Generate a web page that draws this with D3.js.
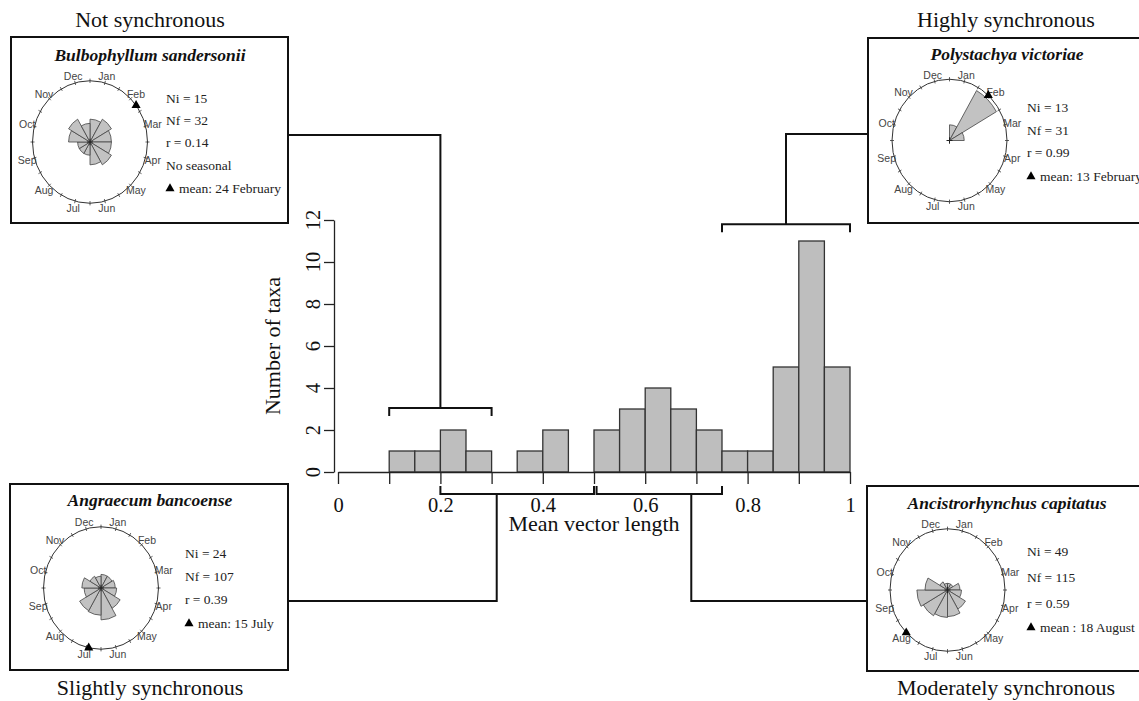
<!DOCTYPE html>
<html><head><meta charset="utf-8">
<script src="https://cdnjs.cloudflare.com/ajax/libs/d3/7.8.5/d3.min.js"></script>
<style>html,body{margin:0;padding:0;background:#fff;} svg{display:block}</style>
</head><body><svg id="c" width="1139" height="701"></svg>
<script>
// ---------- data ----------
const histBinStart = [0.10,0.15,0.20,0.25,0.30,0.35,0.40,0.45,0.50,0.55,0.60,0.65,0.70,0.75,0.80,0.85,0.90,0.95];
const histCount    = [1,1,2,1,0,1,2,0,2,3,4,3,2,1,1,5,11,5];
const binWidth = 0.05;
const xMinorTicks = [0,0.1,0.2,0.3,0.4,0.5,0.6,0.7,0.8,0.9,1];
const xLabelValues = [0,0.2,0.4,0.6,0.8,1];
const xTickLabels = ["0","0.2","0.4","0.6","0.8","1"];
const yTickValues = [0,2,4,6,8,10,12];
const yTickLabels = ["0","2","4","6","8","10","12"];
const xTitle = "Mean vector length";
const yTitle = "Number of taxa";

const classNames  = ["Not synchronous","Highly synchronous","Slightly synchronous","Moderately synchronous"];
const classRanges = [[0.1,0.3],[0.75,1.0],[0.2,0.5],[0.505,0.75]];
const classStem   = [0.2,0.875,0.31,0.69];

const speciesNames = ["Bulbophyllum sandersonii","Polystachya victoriae","Angraecum bancoense","Ancistrorhynchus capitatus"];
const niValues = ["15","13","24","49"];
const nfValues = ["32","31","107","115"];
const rValues  = ["0.14","0.99","0.39","0.59"];
const seasonNote = ["No seasonal","","",""];
const meanLabels = ["mean: 24 February","mean: 13 February","mean: 15 July","mean : 18 August"];
const meanDay = [55,44,196,230];

const monthLabels = ["Jan","Feb","Mar","Apr","May","Jun","Jul","Aug","Sep","Oct","Nov","Dec"];
const roseBulbophyllum   = [3,4,3,3,4,3,1,1,1,3,4,2];
const rosePolystachya    = [2,27,2,0,0,0,0,0,0,0,0,0];
const roseAngraecum      = [4,4,5,6,12,22,16,15,7,9,4,3];
const roseAncistrorhynchus = [1,1,4,5,11,16,17,20,24,13,2,1];
const roseCounts = [roseBulbophyllum, rosePolystachya, roseAngraecum, roseAncistrorhynchus];

// ---------- layout ----------
const svg = d3.select("#c");
const serif = "'Liberation Serif','Times New Roman',Times,serif";
const sans = "'Liberation Sans',Arial,Helvetica,sans-serif";

const x = d3.scaleLinear().domain([0,1]).range([338,850]);
const y = d3.scaleLinear().domain([0,12]).range([472,220]);

const panels = [
  {box:[11,37,288,223],  title:[150,27],  species:[150,61],  c:[90,142],    sx:166,  sy:[98,120,142,165,188], k:70},
  {box:[868,38,1146,223],title:[1006,27], species:[1007,60], c:[949.5,140.5],sx:1027, sy:[107,130,152,176], k:58},
  {box:[10,484,288,670], title:[150,695], species:[150,506], c:[101,588],   sx:185,  sy:[553,576,599,623], k:66},
  {box:[867,486,1146,671],title:[1006,695],species:[1007,509],c:[947.5,590], sx:1027, sy:[551,577,603,627], k:67}
];

// ---------- connectors & brackets ----------
const lineG = svg.append("g").attr("fill","none").attr("stroke","#111").attr("stroke-width",2);
const bracketY = [y(3.05), y(11.8), 494, 494];
const bracketDir = [1,1,-1,-1];
const stemEndY = [135,134,601,601];
const stemEndX = [panels[0].box[2], panels[1].box[0], panels[2].box[2], panels[3].box[0]];
classRanges.forEach((rg,i)=>{
  const by = bracketY[i], t = 8*bracketDir[i];
  lineG.append("path").attr("d",`M${x(rg[0])},${by+t}V${by}H${x(rg[1])}V${by+t}`);
  lineG.append("path").attr("d",`M${x(classStem[i])},${by}V${stemEndY[i]}H${stemEndX[i]}`);
});

// ---------- histogram ----------
const bars = histBinStart.map((s,i)=>({s, n:histCount[i]})).filter(d=>d.n>0);
svg.append("g").selectAll("rect").data(bars).join("rect")
  .attr("x",d=>x(d.s)).attr("width",d=>x(d.s+binWidth)-x(d.s))
  .attr("y",d=>y(d.n)).attr("height",d=>y(0)-y(d.n))
  .attr("fill","#bebebe").attr("stroke","#333").attr("stroke-width",1.3);

const xAxis = svg.append("g").attr("transform",`translate(0,${y(0)})`)
  .call(d3.axisBottom(x).tickValues(xMinorTicks).tickSize(12).tickSizeOuter(0).tickPadding(13)
    .tickFormat(d=>{const k=xLabelValues.findIndex(v=>Math.abs(v-d)<1e-9); return k>=0?xTickLabels[k]:"";}));
xAxis.selectAll("path,line").attr("stroke","#222").attr("stroke-width",1.3);
xAxis.selectAll("text").attr("font-family",serif).attr("font-size",20.5).attr("fill","#111");

const yAxisX = 334;
const yAxis = svg.append("g").attr("transform",`translate(${yAxisX},0)`)
  .call(d3.axisLeft(y).tickValues(yTickValues).tickSize(10).tickSizeOuter(0).tickFormat(()=>""));
yAxis.selectAll("path,line").attr("stroke","#222").attr("stroke-width",1.3);
svg.append("g").selectAll("text").data(yTickValues).join("text")
  .attr("transform",(d)=>`translate(${yAxisX-21},${y(d)}) rotate(-90)`)
  .attr("text-anchor","middle").attr("dominant-baseline","central")
  .attr("font-family",serif).attr("font-size",20.5).attr("fill","#111")
  .text((d,i)=>yTickLabels[i]);

svg.append("text").attr("x",594).attr("y",531).attr("text-anchor","middle")
  .attr("font-family",serif).attr("font-size",22).attr("fill","#111").text(xTitle);
svg.append("text").attr("transform","translate(272,346) rotate(-90)")
  .attr("text-anchor","middle").attr("dominant-baseline","central")
  .attr("font-family",serif).attr("font-size",22).attr("fill","#111").text(yTitle);

// ---------- panels ----------
const R = 57.5, SY = 1.065;
const tri = d3.symbol().type(d3.symbolTriangle).size(36);
panels.forEach((p,i)=>{
  const g = svg.append("g");
  const [x0,y0,x1,y1] = p.box;
  g.append("rect").attr("x",x0).attr("y",y0).attr("width",x1-x0).attr("height",y1-y0)
    .attr("fill","none").attr("stroke","#111").attr("stroke-width",2);
  g.append("text").attr("x",p.title[0]).attr("y",p.title[1]).attr("text-anchor","middle")
    .attr("font-family",serif).attr("font-size",22).attr("fill","#111").text(classNames[i]);
  g.append("text").attr("x",p.species[0]).attr("y",p.species[1]).attr("text-anchor","middle")
    .attr("font-family",serif).attr("font-size",17.5).attr("font-weight","bold").attr("font-style","italic")
    .attr("fill","#111").text(speciesNames[i]);

  // circular plot
  const [cx,cy] = p.c;
  const cg = g.append("g").attr("transform",`translate(${cx},${cy}) scale(1,${SY})`);
  const counts = roseCounts[i];
  const N = d3.sum(counts);
  const rs = d3.scaleSqrt().domain([0,N]).range([0,p.k]);
  const arc = d3.arc().innerRadius(0);
  cg.selectAll("path.w").data(counts.map((n,m)=>({n,m})).filter(d=>d.n>0)).join("path")
    .attr("d",d=>arc({outerRadius:rs(d.n),startAngle:d.m*Math.PI/6,endAngle:(d.m+1)*Math.PI/6}))
    .attr("fill","#c2c2c2").attr("stroke","#444").attr("stroke-width",0.8)
    .attr("vector-effect","non-scaling-stroke");
  cg.append("circle").attr("r",R).attr("fill","none").attr("stroke","#333").attr("stroke-width",1)
    .attr("vector-effect","non-scaling-stroke");
  cg.selectAll("line.t").data(d3.range(0,360,15)).join("line")
    .attr("x1",a=>(R-2)*Math.sin(a*Math.PI/180)).attr("y1",a=>-(R-2)*Math.cos(a*Math.PI/180))
    .attr("x2",a=>(R+2)*Math.sin(a*Math.PI/180)).attr("y2",a=>-(R+2)*Math.cos(a*Math.PI/180))
    .attr("stroke","#333").attr("stroke-width",0.8).attr("vector-effect","non-scaling-stroke");
  cg.append("path").attr("d","M-3,0H3M0,-3V3").attr("stroke","#222").attr("stroke-width",1)
    .attr("vector-effect","non-scaling-stroke");
  // month labels
  g.selectAll("text.m").data(monthLabels).join("text")
    .attr("x",(d,m)=>cx+65*Math.sin((m*30+15)*Math.PI/180))
    .attr("y",(d,m)=>cy-68*Math.cos((m*30+15)*Math.PI/180))
    .attr("text-anchor","middle").attr("dominant-baseline","central")
    .attr("font-family",sans).attr("font-size",10.5).attr("fill","#444").text(d=>d);
  // mean marker
  const ma = (meanDay[i]-1)/365*2*Math.PI;
  g.append("path").attr("d",tri)
    .attr("transform",`translate(${cx+R*Math.sin(ma)},${cy-R*SY*Math.cos(ma)})`).attr("fill","#000");

  // stats
  const lines = [`Ni = ${niValues[i]}`,`Nf = ${nfValues[i]}`,`r = ${rValues[i]}`];
  if (seasonNote[i]) lines.push(seasonNote[i]);
  lines.forEach((t,k)=>{
    g.append("text").attr("x",p.sx).attr("y",p.sy[k]+4.5)
      .attr("font-family",serif).attr("font-size",13.5).attr("fill","#222").text(t);
  });
  const my = p.sy[lines.length];
  g.append("path").attr("d",tri).attr("transform",`translate(${p.sx+4},${my+0.5})`).attr("fill","#000");
  g.append("text").attr("x",p.sx+13).attr("y",my+4.5)
    .attr("font-family",serif).attr("font-size",13.5).attr("fill","#222").text(meanLabels[i]);
});
</script></body></html>
